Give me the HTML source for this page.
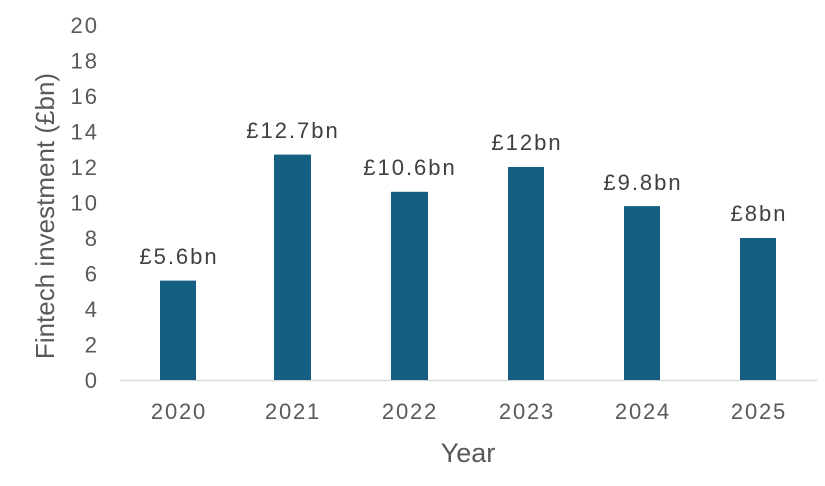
<!DOCTYPE html>
<html><head><meta charset="utf-8"><style>
html,body{margin:0;padding:0;background:#fff;}
svg{display:block;font-family:"Liberation Sans",Arial,sans-serif;}
</style></head><body>
<svg width="825" height="486" viewBox="0 0 825 486" xmlns="http://www.w3.org/2000/svg">
<g fill="#595959" font-size="22" text-anchor="end" letter-spacing="2">
<text x="99" y="388">0</text>
<text x="99" y="352.5">2</text>
<text x="99" y="317">4</text>
<text x="99" y="281.5">6</text>
<text x="99" y="246">8</text>
<text x="99" y="210.5">10</text>
<text x="99" y="175">12</text>
<text x="99" y="139.5">14</text>
<text x="99" y="104">16</text>
<text x="99" y="68.5">18</text>
<text x="99" y="33">20</text>
</g>
<text transform="translate(54,216) rotate(-90)" text-anchor="middle" font-size="26" fill="#595959">Fintech investment (£bn)</text>
<line x1="120" y1="380.5" x2="817" y2="380.5" stroke="#d9d9d9" stroke-width="1.5"/>
<g fill="#156082">
<rect x="160" y="280.6" width="36" height="99.4"/>
<rect x="274" y="154.6" width="37" height="225.4"/>
<rect x="391" y="191.8" width="37" height="188.2"/>
<rect x="508" y="167" width="36" height="213"/>
<rect x="624" y="206.1" width="36" height="173.9"/>
<rect x="740" y="238" width="36" height="142"/>
</g>
<g fill="#404040" font-size="22" text-anchor="middle" letter-spacing="2">
<text x="179" y="264">£5.6bn</text>
<text x="293" y="138">£12.7bn</text>
<text x="410" y="175">£10.6bn</text>
<text x="527" y="150">£12bn</text>
<text x="643" y="190">£9.8bn</text>
<text x="759" y="221">£8bn</text>
</g>
<g fill="#595959" font-size="22" text-anchor="middle" letter-spacing="1.8">
<text x="179" y="419">2020</text>
<text x="293" y="419">2021</text>
<text x="410" y="419">2022</text>
<text x="527" y="419">2023</text>
<text x="643" y="419">2024</text>
<text x="759" y="419">2025</text>
</g>
<text x="468" y="462" text-anchor="middle" font-size="27" fill="#595959">Year</text>
</svg>
</body></html>
